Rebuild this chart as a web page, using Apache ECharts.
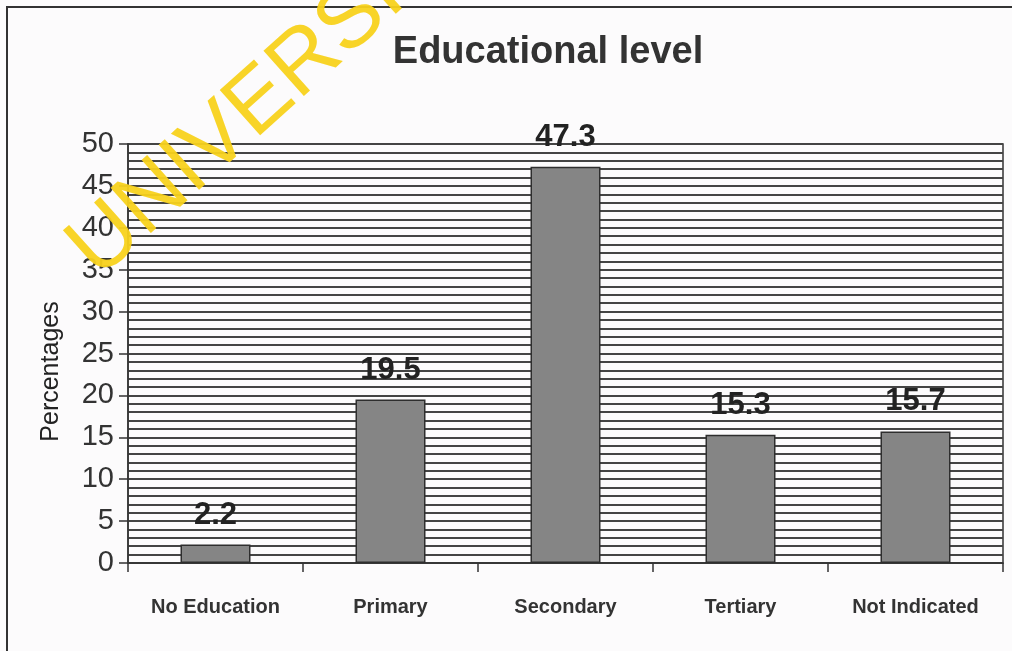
<!DOCTYPE html>
<html>
<head>
<meta charset="utf-8">
<script src="https://cdn.jsdelivr.net/npm/echarts@6/dist/echarts.min.js"></script>
<style>
html,body{margin:0;padding:0;background:#fcfbfc;}
#c{width:1012px;height:651px;}
</style>
</head>
<body>
<div id="c"></div>
<script>
var categories = ['No Education', 'Primary', 'Secondary', 'Tertiary', 'Not Indicated'];
var values = [2.2, 19.5, 47.3, 15.3, 15.7];
var yTicks = [0, 5, 10, 15, 20, 25, 30, 35, 40, 45, 50];

var chart = echarts.init(document.getElementById('c'), null, {renderer: 'canvas'});
var font = 'Liberation Sans, Arial, sans-serif';
chart.setOption({
  backgroundColor: '#fcfbfc',
  animation: false,
  title: {
    text: 'Educational level',
    left: 543,
    top: 29,
    textAlign: 'center',
    textStyle: {fontFamily: font, fontSize: 38, fontWeight: 'bold', color: '#333'}
  },
  grid: {left: 128, right: 9, top: 144, bottom: 88, show: true, borderColor: '#333', borderWidth: 1.5, backgroundColor: 'transparent'},
  xAxis: {
    type: 'category',
    data: categories,
    axisLine: {lineStyle: {color: '#333', width: 1.5}},
    axisTick: {show: true, length: 9, lineStyle: {color: '#333', width: 1.5}},
    axisLabel: {fontFamily: font, fontSize: 20, fontWeight: 'bold', color: '#333', margin: 34}
  },
  yAxis: {
    type: 'value',
    min: yTicks[0],
    max: yTicks[yTicks.length - 1],
    interval: 5,
    name: 'Percentages',
    nameLocation: 'middle',
    nameRotate: 90,
    nameGap: 64,
    nameTextStyle: {fontFamily: font, fontSize: 25, color: '#222', padding: [0, 36, 0, 0]},
    axisLine: {show: true, lineStyle: {color: '#333', width: 1.5}},
    axisTick: {show: true, length: 9, lineStyle: {color: '#333', width: 1.5}},
    axisLabel: {fontFamily: font, fontSize: 29, color: '#333', margin: 14},
    splitLine: {show: true, lineStyle: {color: '#444', width: 2}},
    minorTick: {show: false, splitNumber: 5},
    minorSplitLine: {show: true, lineStyle: {color: '#444', width: 2}}
  },
  series: [{
    type: 'bar',
    data: values,
    barWidth: 70,
    itemStyle: {color: '#858585', borderColor: '#2e2e2e', borderWidth: 1.5},
    label: {show: true, position: 'top', distance: 14, fontFamily: font, fontSize: 31, fontWeight: 'bold', color: '#222'}
  }],
  graphic: [
    {type: 'rect', shape: {x: 7, y: 7, width: 1030, height: 680}, style: {fill: 'none', stroke: '#333', lineWidth: 2}, z: 100},
    {type: 'text', x: 82, y: 262, rotation: 0.73, style: {text: 'UNIVERSITY', fontFamily: font, fontSize: 88, fill: '#f8d21c', textAlign: 'left', textVerticalAlign: 'middle', opacity: 0.95}, z: 110}
  ]
});
</script>
</body>
</html>
